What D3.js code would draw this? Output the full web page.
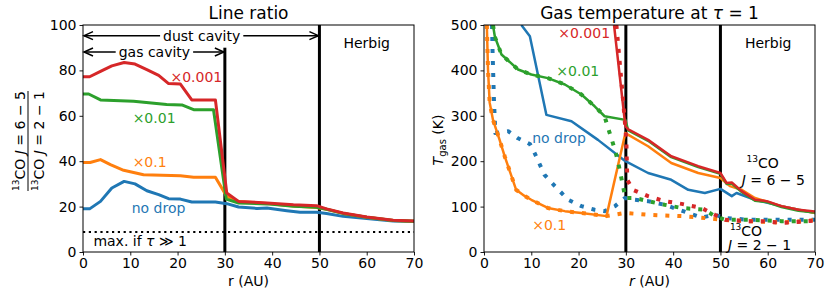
<!DOCTYPE html>
<html>
<head>
<meta charset="utf-8">
<script src="https://cdn.jsdelivr.net/npm/d3@7/dist/d3.min.js"></script>
<style>
  body { margin: 0; background: #fff; }
  svg text { font-family: "DejaVu Sans", sans-serif; fill: #000; }
</style>
</head>
<body>
<div id="chart"></div>
<script>
// Colours (matplotlib tab10)
const C = {blue: "#1f77b4", orange: "#ff7f0e", green: "#2ca02c", red: "#d62728"};

// ---------- Left panel: line ratio 13CO 6-5 / 2-1 ----------
const ratioNoDropR = [0,1.4,3.7,6.1,8.7,11,13.5,16,18.1,20.6,23,28,30.4,32.9,36.8,38.9,43.1,45.9,49.4,51.5,55,60,65.6,70];
const ratioNoDrop  = [19,19,22.3,28.2,31.1,30,27,25.3,23.5,23.3,22,22,21.3,19.8,19.2,19.4,18.2,17.5,17.5,17,15.7,14.7,13.7,13.4];
const ratio01R = [0,1.5,3.7,5.8,8.6,12.8,20.6,23.4,28,30.4,32.9,38.9,44.5,49.4,51.5,55,60,65.6,70];
const ratio01  = [39.4,39.4,40.7,38.5,36,34,33.6,32.9,32.9,24.5,22.2,21.4,20.3,19.6,18.8,17,15.3,13.9,13.6];
const ratio001R = [0,1.2,3.7,10.7,17.7,20.9,23.4,27.6,30.3,32.9,38.9,44.5,49.4,51.5,55,60,65.6,70];
const ratio001  = [69.6,69.6,67,66.4,65,64.8,62.7,62.7,23.3,21.6,21.2,20.2,19.7,18.8,17,15.3,13.9,13.6];
const ratio0001R = [0,1.4,3.7,6.1,8.7,11,13.5,16,18.1,20.6,23,28,30.4,32.9,38.9,44.5,49.4,51.5,55,60,65.6,70];
const ratio0001  = [77.2,77.2,79.6,82,83.5,82.8,80.3,77.8,74.2,74,67,67,26,22.3,21.6,20.8,20.4,19,17.2,15.4,14,13.7];
const ratioMaxThick = 8.8;

// ---------- Right panel: gas temperature at tau=1 ----------
// solid: J=6-5, dotted: J=2-1
const tHiNoDropR = [7.9,9.7,13.2,18.5,24.1,29.9,34.7,39.6,43.2,46.7,50,52.4,53.4,57.3,62.9,70];
const tHiNoDrop  = [500,475,302,288,247,200,174,159,137,130,139,123,130,115,101,86];
const tLoNoDropR = [1.7,1.8,2.1,2.4,5.1,7.1,9.7,10.7,12.8,15,17.8,20.6,23.4,25.5,27.7,29.8,31.9,34.7,38.2,43.2,46,48.8,51,55.9,62.9,70];
const tLoNoDrop  = [500,446,335,262,266,251,238,218,170,145,115,101,93,90,101,119,115,112,104,86,76,82,75,71,71,71];

const tHi01R = [0.6,0.85,1.2,1.9,3.3,4.4,6.8,8.5,10,13.5,17.1,20.6,25.9,29.9,34.7,39.6,45.3,50,52,54.5,57.3,62.9,70];
const tHi01  = [500,401,329,291,247,210,137,124,115,97,90,86,79,262,233,196,174,163,145,137,119,101,86];
const tLo01R = [0.6,0.85,1.2,1.9,3.3,4.4,6.8,8.5,10,13.5,17.1,20.6,25.9,29.8,34.7,41.8,46.7,50.2,55.9,62.9,70];
const tLo01  = [500,401,329,291,247,210,137,124,115,97,90,86,79,86,82,79,75,71,68,65,70];

const tHi001R = [1.9,2.3,3.7,7.2,10,13.5,17.1,20.6,23.4,25.5,29.9,30.5,34.7,39.6,45.3,50,51.3,52.4,54.5,57.3,59.8,62.9,66.5,70];
const tHi001  = [500,474,435,402,391,383,369,347,321,299,291,268,245,209,187,172,150,151,132,113,110,99,91,87];
const tLo001R = [1.9,2.3,3.7,7.2,10,13.5,17.1,20.6,23.4,25.5,26.1,27.7,28.4,29.4,29.9,31.9,34.7,38.2,41.8,46.7,48.8,51,55.9,62.9,70];
const tLo001  = [500,474,435,402,391,383,369,347,321,299,278,225,196,145,119,119,112,104,97,93,79,71,71,68,68];

const tHi0001R = [27.5,29.9,30.5,34.7,39.6,45.3,50,51.3,52.4,54.5,57.3,59.8,62.9,66.5,70];
const tHi0001  = [500,277,270,247,211,189,174,152,153,134,115,112,101,93,89];
const tLo0001R = [28,29.4,30.1,30.3,31.5,34.7,38.2,41.8,46,48.8,51,55.9,59.4,62.9,70];
const tLo0001  = [500,336,247,159,137,123,112,106,97,82,71,68,68,64,69];

// ticks
const rTicks = [0,10,20,30,40,50,60,70];
const ratioTicks = [0,20,40,60,80,100];
const tempTicks = [0,100,200,300,400,500];

const W = 831, H = 298;
const svg = d3.select("#chart").append("svg")
  .attr("width", W).attr("height", H);

const plotTop = 25, plotBottom = 252;

function zip(r, v) { return r.map((d, i) => [d, v[i]]); }

function panel(id, left, right, yMax, yTicks) {
  const x = d3.scaleLinear().domain([0, 70]).range([left, right]);
  const y = d3.scaleLinear().domain([0, yMax]).range([plotBottom, plotTop]);
  const g = svg.append("g");
  g.append("clipPath").attr("id", id)
    .append("rect").attr("x", left).attr("y", plotTop)
    .attr("width", right - left).attr("height", plotBottom - plotTop);
  const plot = g.append("g").attr("clip-path", `url(#${id})`);

  const xAxis = g.append("g").attr("transform", `translate(0,${plotBottom})`)
    .call(d3.axisBottom(x).tickValues(rTicks).tickSize(3.5).tickPadding(3));
  const yAxis = g.append("g").attr("transform", `translate(${left},0)`)
    .call(d3.axisLeft(y).tickValues(yTicks).tickSize(3.5).tickPadding(3));
  [xAxis, yAxis].forEach(a => {
    a.selectAll("text").style("font-size", "14px").style("font-family", "DejaVu Sans, sans-serif");
    a.select(".domain").remove();
    a.selectAll("line").attr("stroke", "#000").attr("stroke-width", 0.9);
  });
  g.append("rect").attr("x", left).attr("y", plotTop)
    .attr("width", right - left).attr("height", plotBottom - plotTop)
    .attr("fill", "none").attr("stroke", "#000").attr("stroke-width", 1);
  return {x, y, g, plot};
}

function addLine(p, pts, color, w, dash) {
  const line = d3.line().x(d => p.x(d[0])).y(d => p.y(d[1]));
  const path = p.plot.append("path").datum(pts)
    .attr("d", line).attr("fill", "none")
    .attr("stroke", color).attr("stroke-width", w)
    .attr("stroke-linejoin", "round");
  if (dash) path.attr("stroke-dasharray", dash);
  return path;
}

function label(p, r, v, txt, color, size, anchor) {
  return p.g.append("text").attr("x", p.x(r)).attr("y", p.y(v))
    .attr("fill", color).style("fill", color)
    .style("font-size", (size || 14) + "px")
    .attr("text-anchor", anchor || "start").text(txt);
}

// ---------- left ----------
const L = panel("clipL", 83, 414, 100, ratioTicks);

// vertical markers
L.plot.append("line").attr("x1", L.x(30)).attr("x2", L.x(30))
  .attr("y1", L.y(90)).attr("y2", L.y(0)).attr("stroke", "#000").attr("stroke-width", 3);
L.plot.append("line").attr("x1", L.x(50)).attr("x2", L.x(50))
  .attr("y1", L.y(100)).attr("y2", L.y(0)).attr("stroke", "#000").attr("stroke-width", 3);
L.plot.append("line").attr("x1", L.x(0)).attr("x2", L.x(70))
  .attr("y1", L.y(ratioMaxThick)).attr("y2", L.y(ratioMaxThick))
  .attr("stroke", "#000").attr("stroke-width", 2.2).attr("stroke-dasharray", "2.2 3.6");

addLine(L, zip(ratioNoDropR, ratioNoDrop), C.blue, 3);
addLine(L, zip(ratio01R, ratio01), C.orange, 3);
addLine(L, zip(ratio001R, ratio001), C.green, 3);
addLine(L, zip(ratio0001R, ratio0001), C.red, 3);

// double arrows
function dblArrow(p, r0, r1, v, txt, rText) {
  const yy = p.y(v), xa = p.x(r0) + 1, xb = p.x(r1) - 1;
  const g = p.g.append("g").attr("stroke", "#000").attr("stroke-width", 1.5).attr("fill", "none");
  g.append("line").attr("x1", xa).attr("x2", xb).attr("y1", yy).attr("y2", yy);
  g.append("path").attr("d", `M${xa + 9},${yy - 4}L${xa},${yy}L${xa + 9},${yy + 4}`);
  g.append("path").attr("d", `M${xb - 9},${yy - 4}L${xb},${yy}L${xb - 9},${yy + 4}`);
  const t = p.g.append("text").attr("x", p.x(rText)).attr("y", yy + 5)
    .attr("text-anchor", "middle").style("font-size", "14px").text(txt);
  const bb = t.node().getBBox();
  p.g.append("rect").attr("x", bb.x - 3).attr("y", yy - 6)
    .attr("width", bb.width + 6).attr("height", 12).attr("fill", "#fff");
  t.raise();
}
dblArrow(L, 0, 50, 95.3, "dust cavity", 25.1);
dblArrow(L, 0, 30, 88.1, "gas cavity", 15.1);

label(L, 60, 89.8, "Herbig", "#000", 14, "middle");
label(L, 18.5, 75, "×0.001", C.red);
label(L, 10.5, 57, "×0.01", C.green);
label(L, 10.5, 37.3, "×0.1", C.orange);
label(L, 10.3, 17.2, "no drop", C.blue);
const mx = label(L, 2.2, 2.5, "", "#000");
mx.append("tspan").text("max. if ");
mx.append("tspan").style("font-style", "italic").text("τ");
mx.append("tspan").text(" ≫ 1");

svg.append("text").attr("x", (83 + 414) / 2).attr("y", 19)
  .attr("text-anchor", "middle").style("font-size", "17px").text("Line ratio");
svg.append("text").attr("x", (83 + 414) / 2).attr("y", 286)
  .attr("text-anchor", "middle").style("font-size", "14px").text("r (AU)");

// fraction y label
const fr = svg.append("g").attr("transform", "translate(28,141) rotate(-90)");
function fracLine(yOff, lo, hi) {
  const t = fr.append("text").attr("x", 0).attr("y", yOff)
    .attr("text-anchor", "middle").style("font-size", "14px");
  t.append("tspan").style("font-size", "9px").attr("dy", -6).text("13");
  t.append("tspan").attr("dy", 6).text("CO ");
  t.append("tspan").style("font-style", "italic").text("J");
  t.append("tspan").text(` = ${hi} − ${lo}`);
  return t;
}
fracLine(-3, 5, 6);
fracLine(16, 1, 2);
fr.append("line").attr("x1", -50).attr("x2", 50).attr("y1", 0).attr("y2", 0)
  .attr("stroke", "#000").attr("stroke-width", 1);

// ---------- right ----------
const R = panel("clipR", 484, 815, 500, tempTicks);
R.plot.append("line").attr("x1", R.x(30)).attr("x2", R.x(30))
  .attr("y1", R.y(500)).attr("y2", R.y(0)).attr("stroke", "#000").attr("stroke-width", 3);
R.plot.append("line").attr("x1", R.x(50)).attr("x2", R.x(50))
  .attr("y1", R.y(500)).attr("y2", R.y(0)).attr("stroke", "#000").attr("stroke-width", 3);

const dot = "4 8";
addLine(R, zip(tHiNoDropR, tHiNoDrop), C.blue, 2.5);
addLine(R, zip(tLoNoDropR, tLoNoDrop), C.blue, 4, dot);
addLine(R, zip(tHi01R, tHi01), C.orange, 2.5);
addLine(R, zip(tLo01R, tLo01), C.orange, 4, dot);
addLine(R, zip(tHi001R, tHi001), C.green, 2.5);
addLine(R, zip(tLo001R, tLo001), C.green, 4, dot);
addLine(R, zip(tHi0001R, tHi0001), C.red, 2.5);
addLine(R, zip(tLo0001R, tLo0001), C.red, 4, dot);

label(R, 60.1, 449, "Herbig", "#000", 14, "middle");
label(R, 15.7, 471, "×0.001", C.red);
label(R, 15.3, 388, "×0.01", C.green);
label(R, 10.2, 240, "no drop", C.blue);
label(R, 10.2, 49, "×0.1", C.orange);

function coLabel(r, v, rJ, vJ, hi, lo) {
  const a = label(R, r, v, "", "#000");
  a.append("tspan").style("font-size", "9px").attr("dy", -6).text("13");
  a.append("tspan").attr("dy", 6).text("CO");
  const b = label(R, rJ, vJ, "", "#000");
  b.append("tspan").style("font-style", "italic").text("J");
  b.append("tspan").text(` = ${hi} − ${lo}`);
}
coLabel(55.5, 186, 54.5, 148, 6, 5);
coLabel(52, 36, 51.6, 5, 2, 1);

const tt = svg.append("text").attr("x", (484 + 815) / 2).attr("y", 19)
  .attr("text-anchor", "middle").style("font-size", "17px");
tt.append("tspan").text("Gas temperature at ");
tt.append("tspan").style("font-style", "italic").text("τ");
tt.append("tspan").text(" = 1");

const xl = svg.append("text").attr("x", (484 + 815) / 2).attr("y", 286)
  .attr("text-anchor", "middle").style("font-size", "14px");
xl.append("tspan").style("font-style", "italic").text("r");
xl.append("tspan").text(" (AU)");

const yl = svg.append("text").attr("transform", "translate(443,140) rotate(-90)")
  .attr("text-anchor", "middle").style("font-size", "14px");
yl.append("tspan").style("font-style", "italic").text("T");
yl.append("tspan").style("font-size", "10px").attr("dy", 3).text("gas");
yl.append("tspan").attr("dy", -3).text(" (K)");
</script>
</body>
</html>
